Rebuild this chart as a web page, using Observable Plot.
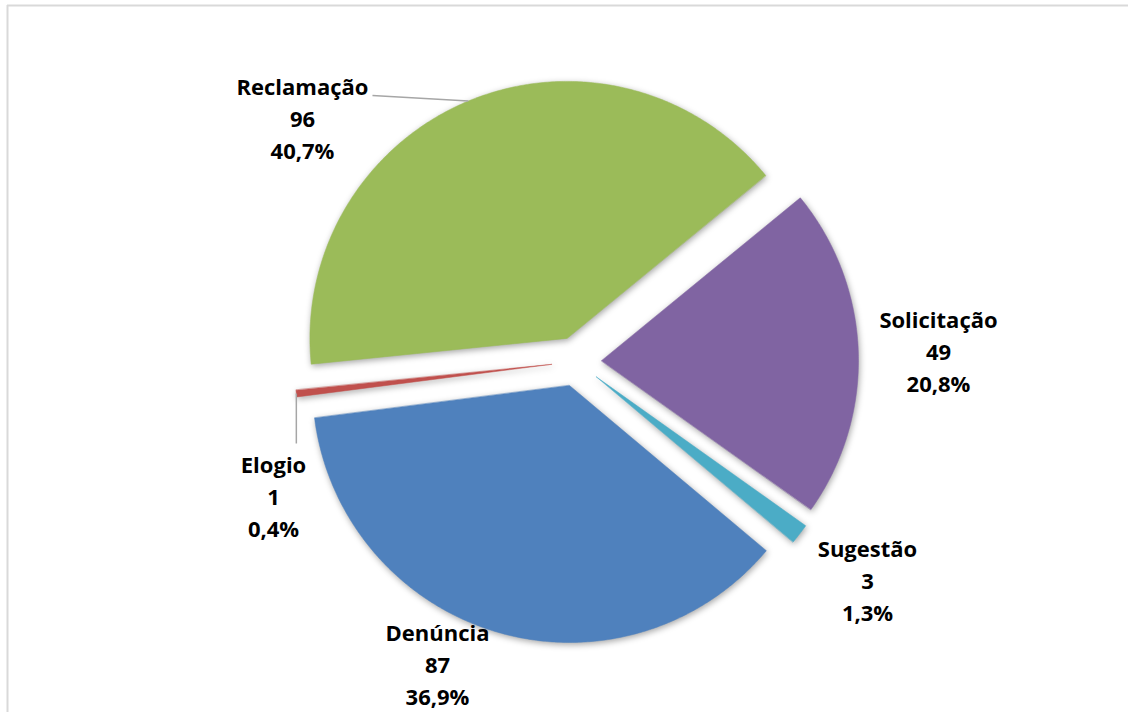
<!DOCTYPE html>
<html><head><meta charset="utf-8">
<script src="https://cdn.jsdelivr.net/npm/d3@7"></script>
<script src="https://cdn.jsdelivr.net/npm/@observablehq/plot@0.6"></script>
<style>
body{margin:0;background:#fff;}
#chart{width:1128px;height:712px;overflow:hidden;}
</style></head><body><div id="chart"></div>
<script>
// ---- data ----
const categories = ["Denúncia", "Elogio", "Reclamação", "Solicitação", "Sugestão"];
const counts = [87, 1, 96, 49, 3];
const percentLabels = ["36,9%", "0,4%", "40,7%", "20,8%", "1,3%"];
const colors = ["#4F81BD", "#C0504D", "#9BBB59", "#8064A2", "#4BACC6"];

// ---- layout ----
const W = 1128, H = 712;
const cx = 576, cy = 361, R = 257, explode = 25;
const startDeg = 130;
const labelCenter = {
  "Denúncia": [437, 662], "Elogio": [273, 494], "Reclamação": [302, 116],
  "Solicitação": [938, 349], "Sugestão": [867, 578]
};
const leaderLabelEnd = {"Reclamação": [372, 95], "Elogio": [null, 443]};

const rad = Math.PI / 180;
const pie = d3.pie().sort(null).value(d => d.count)
  .startAngle(startDeg * rad).endAngle((startDeg + 360) * rad);
const rows = categories.map((c, i) => ({cat: c, count: counts[i], pct: percentLabels[i]}));
const arcs = pie(rows);

const polyPts = [];
const leaders = [];
arcs.forEach(a => {
  const mid = (a.startAngle + a.endAngle) / 2;
  const ox = cx + explode * Math.sin(mid), oy = cy - explode * Math.cos(mid);
  polyPts.push({cat: a.data.cat, x: ox, y: oy});
  const n = Math.max(2, Math.ceil((a.endAngle - a.startAngle) / (0.5 * rad)));
  for (let k = 0; k <= n; k++) {
    const t = a.startAngle + (a.endAngle - a.startAngle) * k / n;
    polyPts.push({cat: a.data.cat, x: ox + R * Math.sin(t), y: oy - R * Math.cos(t)});
  }
  const le = leaderLabelEnd[a.data.cat];
  if (le) {
    const ax = ox + R * Math.sin(mid), ay = oy - R * Math.cos(mid);
    leaders.push({x1: ax, y1: ay, x2: le[0] == null ? ax : le[0], y2: le[1]});
  }
});

const labels = rows.map(r => ({
  x: labelCenter[r.cat][0], y: labelCenter[r.cat][1],
  text: `${r.cat}\n${r.count}\n${r.pct}`
}));

const chart = Plot.plot({
  width: W, height: H,
  margin: 0,
  x: {domain: [0, W], range: [0, W], axis: null},
  y: {domain: [0, H], range: [0, H], axis: null},
  color: {domain: categories, range: colors},
  style: {background: "#fff", overflow: "visible"},
  marks: [
    Plot.ruleY([5], {x1: 7, x2: W, stroke: "#d9d9d9", strokeWidth: 2}),
    Plot.ruleX([7], {y1: 5, y2: H, stroke: "#d9d9d9", strokeWidth: 2}),
    Plot.line(polyPts, {x: "x", y: "y", z: "cat", fill: "cat", stroke: "cat", strokeWidth: 0.5, curve: "linear-closed"}),
    Plot.link(leaders, {x1: "x1", y1: "y1", x2: "x2", y2: "y2", stroke: "#a6a6a6", strokeWidth: 1.5}),
    Plot.text(labels, {x: "x", y: "y", text: "text", fontSize: 22, fontWeight: "bold",
      fontFamily: "'Open Sans', sans-serif", fill: "#000", lineHeight: 1.45,
      textAnchor: "middle", lineAnchor: "middle"})
  ]
});
d3.select(chart).selectAll('g[aria-label="line"] path')
  .style("filter", "drop-shadow(1px 2px 3px rgba(0,0,0,0.35))");
document.getElementById("chart").appendChild(chart);
</script></body></html>
